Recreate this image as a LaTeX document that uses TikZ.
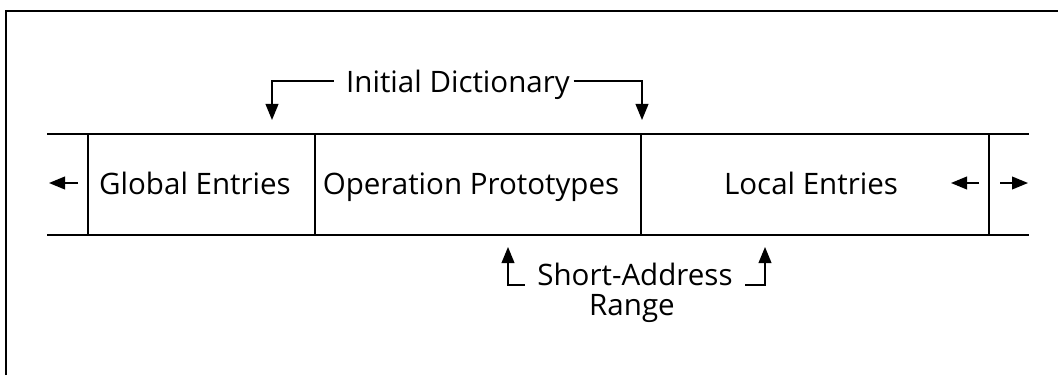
\documentclass[tikz,border=0pt]{standalone}
\usepackage{fontspec}
\setmainfont{Open Sans}
\usetikzlibrary{arrows.meta,positioning}

\begin{document}
\begin{tikzpicture}[
            x = 0.025cm, y = -0.025cm, % one unit = one pixel
            > = {Triangle[length=0.4cm,width=0.32cm]}, % arrow head style
            line width = 1pt,
            lbl/.style = {font=\fontsize{21}{26}\selectfont, anchor=base, inner ysep=0pt}
        ]
\useasboundingbox (0,0) rectangle (1058,375);

% frame
\draw[line width=1.3pt] (6,375) -- (6,11) -- (1058,11);

% the band
\draw (47,134) -- (1029,134);
\draw (47,235) -- (1029,235);
\foreach \x in {88,315,641,989}
    \draw (\x,134) -- (\x,235);

\node[lbl] (glob) at (195,194) {Global Entries};
\node[lbl] (oper) at (471,194) {Operation Prototypes};
\node[lbl] (loc) at (811,194) {Local Entries};

\coordinate (gl1) at (78,183);
\coordinate (gl2) at (49,183);
\coordinate (lo1) at (979,183);
\coordinate (lo2) at (951,183);
\coordinate (lo3) at (1000,183);
\coordinate (lo4) at (1028,183);
\draw[->] (gl1) -- (gl2);
\draw[->] (lo1) -- (lo2);
\draw[->] (lo3) -- (lo4);

% initial dictionary
\node[lbl, inner xsep=0.3cm] (dict) at (458,92) {Initial Dictionary};
\coordinate (d1) at (272,120);
\coordinate (d2) at (642,120);
\draw[->] ([yshift=0.28cm]dict.base west) -| (d1);
\draw[->] ([xshift=-0.22cm,yshift=0.28cm]dict.base east) -| (d2);

% short-address range
\node[lbl, inner xsep=0.3cm] (short) at (635,285) {Short-Address};
\node[lbl] (range) at (632,315) {Range};
\coordinate (s1) at (508,247);
\coordinate (s2) at (765,247);
\draw[->] (short.base west) -| (s1);
\draw[->] (short.base east) -| (s2);
\end{tikzpicture}
\end{document}
